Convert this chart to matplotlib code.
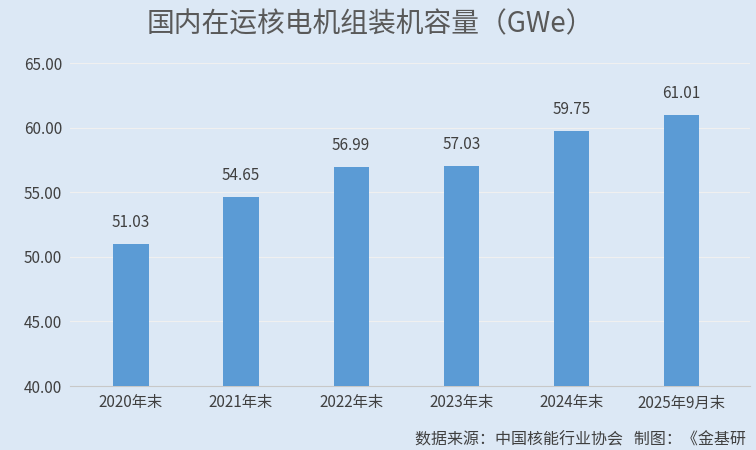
import matplotlib
matplotlib.use("Agg")
import matplotlib.pyplot as plt

categories = ["2020年末", "2021年末", "2022年末", "2023年末", "2024年末", "2025年9月末"]
values = [51.03, 54.65, 56.99, 57.03, 59.75, 61.01]
yticks = [40, 45, 50, 55, 60, 65]

plt.rcParams['font.family'] = ['Noto Sans CJK SC', 'DejaVu Sans']
bg = "#dce8f5"
fig = plt.figure(figsize=(7.56, 4.5), dpi=100, facecolor=bg)
ax = fig.add_axes([0.093, 0.142, 0.899, 0.718], facecolor=bg)
x = range(len(categories))
ax.bar(x, [v - 40 for v in values], bottom=40, width=0.32, color="#5b9bd5", zorder=3)
for i, v in zip(x, values):
    ax.text(i, v + 1.0, f"{v:.2f}", ha="center", va="bottom", fontsize=11, color="#404040")
ax.set_ylim(40, 65)
ax.set_xlim(-0.55, 5.62)
ax.set_yticks(yticks)
ax.set_yticklabels([f"{t:.2f}" for t in yticks], fontsize=11, color="#404040")
ax.set_xticks(list(x))
ax.set_xticklabels(categories, fontsize=11, color="#404040")
ax.grid(axis="y", color="#f0f0f0", linewidth=0.8, zorder=0)
for s in ["top", "right", "left"]:
    ax.spines[s].set_visible(False)
ax.spines["bottom"].set_color("#c8c8c8")
ax.tick_params(length=0, pad=6)
fig.text(0.49, 0.945, "国内在运核电机组装机容量（GWe）", ha="center", va="center", fontsize=20, color="#595959")
fig.text(0.987, 0.022, "数据来源：中国核能行业协会   制图：《金基研", ha="right", va="center", fontsize=11.5, color="#404040")
fig.savefig("out.png", dpi=100, facecolor=bg)
